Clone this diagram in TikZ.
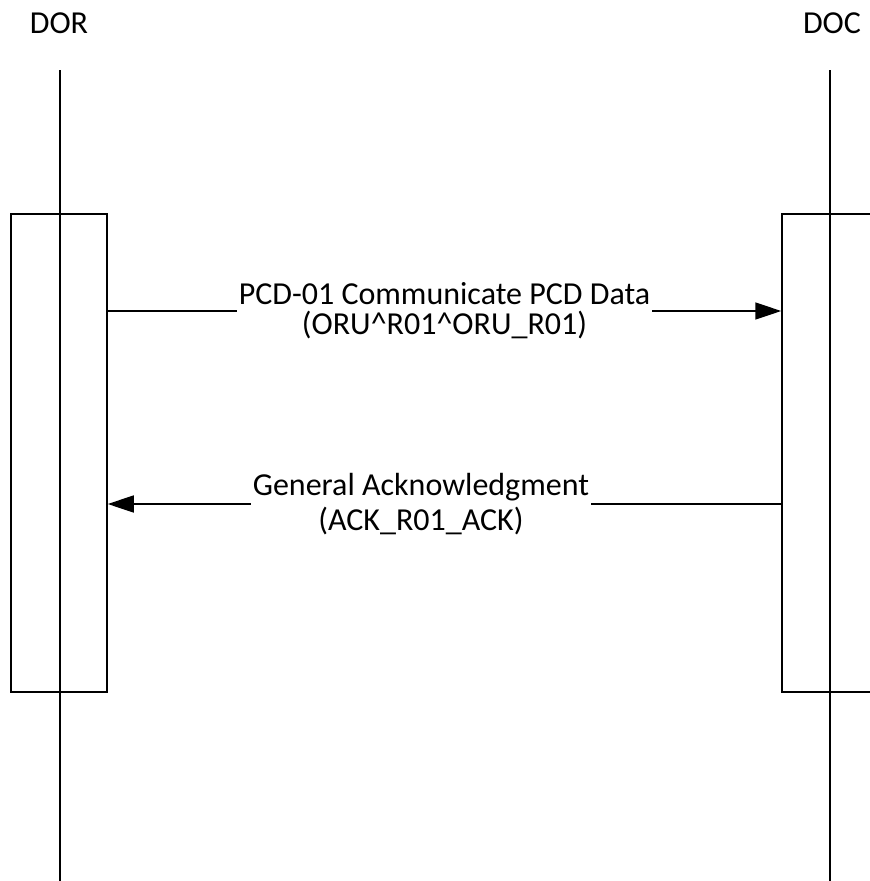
\documentclass[tikz,border=0pt]{standalone}
\usepackage{fontspec}
\setmainfont{Carlito}
\usetikzlibrary{positioning, arrows.meta}

\begin{document}
\begin{tikzpicture}[
        x=1pt, y=-1pt,
        actor/.style={font=\fontsize{32}{30}\selectfont, inner sep=0pt},
        bar/.style={rectangle, draw=black, line width=1.5pt, minimum width=96pt, minimum height=478pt, inner sep=0pt},
        life/.style={line width=1.5pt},
        msg/.style={-{Triangle[length=26pt, width=17pt]}, line width=1.5pt},
        lbl/.style={fill=white, align=center, inner xsep=2pt, inner ysep=0pt, font=\fontsize{32}{30}\selectfont}
    ]
    \useasboundingbox (0,0) rectangle (870,881);
    \clip (0,0) rectangle (870,881);

    \node[actor] (dor) at (59,23) {DOR};
    \node[actor] (doc) at (832,23) {DOC};

    \coordinate (dortop) at (60,70);
    \coordinate (dorend) at (60,881);
    \coordinate (doctop) at (830,70);
    \coordinate (docend) at (830,881);

    \node[bar] (dorbox) at (59,453) {};
    \node[bar] (docbox) at (830,453) {};

    \draw[life] (dortop) -- (dorend);
    \draw[life] (doctop) -- (docend);

    \coordinate (m1) at (0,311);
    \coordinate (m2) at (0,504);

    \draw[msg] (dorbox.east |- m1) -- node[lbl] {PCD-01 Communicate PCD Data\\(ORU\^{}R01\^{}ORU\_R01)} (docbox.west |- m1);
    \draw[msg] (docbox.west |- m2) -- node[lbl, pos=0.535] {General Acknowledgment\\[5pt](ACK\_R01\_ACK)} (dorbox.east |- m2);
\end{tikzpicture}
\end{document}
